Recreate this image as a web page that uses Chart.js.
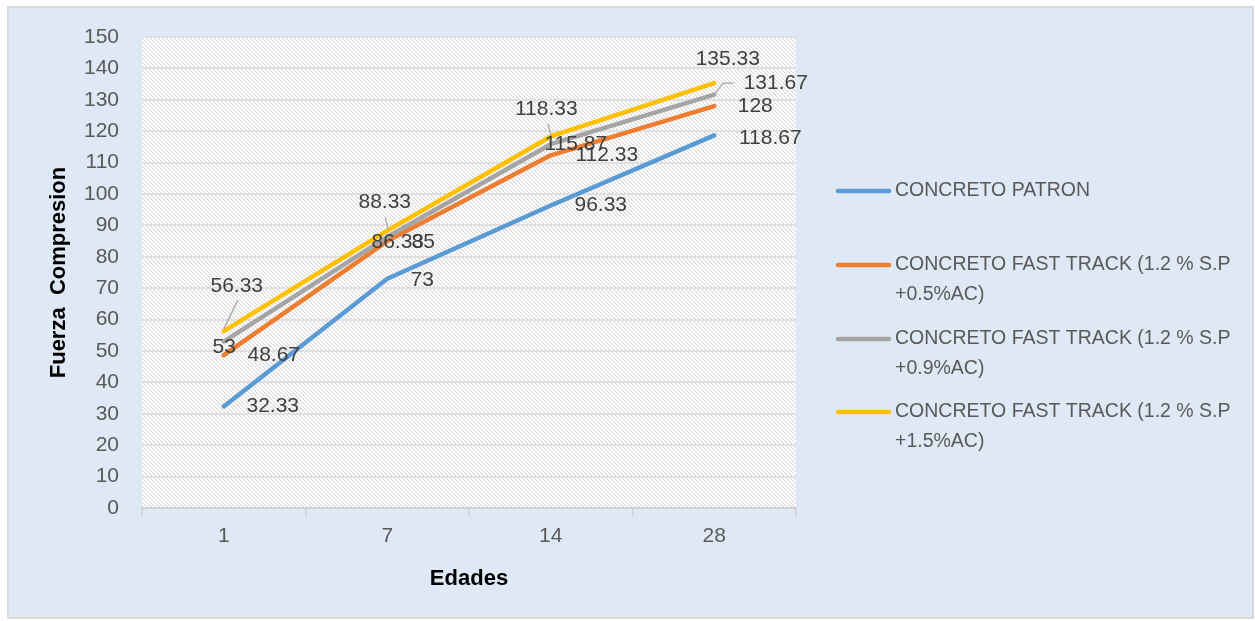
<!DOCTYPE html>
<html><head><meta charset="utf-8">
<script src="https://cdn.jsdelivr.net/npm/chart.js@4.4.0/dist/chart.umd.min.js"></script>
<style>html,body{margin:0;padding:0;background:#fff;}#wrap{width:1255px;height:621px;position:relative}</style>
</head><body><div id="wrap"><canvas id="c" width="1255" height="621"></canvas></div>
<script>
// ---- data ----
const categories = ['1', '7', '14', '28'];
const patron = [32.33, 73, 96.33, 118.67];
const fastTrack05 = [48.67, 85, 112.33, 128];
const fastTrack09 = [53, 86.33, 115.87, 131.67];
const fastTrack15 = [56.33, 88.33, 118.33, 135.33];
const seriesNames = [
  ['CONCRETO PATRON'],
  ['CONCRETO FAST TRACK (1.2 % S.P', '+0.5%AC)'],
  ['CONCRETO FAST TRACK (1.2 % S.P', '+0.9%AC)'],
  ['CONCRETO FAST TRACK (1.2 % S.P', '+1.5%AC)']
];
const yMin = 0, yMax = 150, yStep = 10;
const xTitle = 'Edades';
const yTitle = 'Fuerza  Compresion';

// ---- styling ----
const colors = ['#5b9bd5', '#ed7d31', '#a5a5a5', '#ffc000'];
const FONT = "'Liberation Sans', Arial, sans-serif";
// label offsets relative to each point (px), and optional leader lines
const labelOffsets = [
  [[49, 0], [35, 1], [50, 0], [56, 3]],
  [[50, 0], [36, 1.5], [56, 0], [41, 0]],
  [[0.5, 6], [10.5, 5.5], [25, 0], [61.5, -11]],
  [[13, -44.5], [-2.5, -28], [-4.5, -27], [13.5, -23.5]]
];
const leaders = [
  [null, null, null, null],
  [null, null, null, null],
  [null, null, null, [[19, -11.5], [9, -11.5], [1, -1.5]]],
  [[[14, -31], [0, -2]], [[-2, -13], [1, -1]], [[-3, -13], [1, 1]], null]
];

function makeHatch(ctx) {
  const c = document.createElement('canvas'); c.width = 4; c.height = 4;
  const g = c.getContext('2d');
  g.fillStyle = '#ffffff'; g.fillRect(0, 0, 4, 4);
  for (let i = 0; i < 4; i++) {
    g.fillStyle = '#d8d8d8'; g.fillRect(i, i, 1, 1);
    g.fillStyle = '#f1f1f1'; g.fillRect((i + 1) % 4, i, 1, 1);
  }
  return ctx.createPattern(c, 'repeat');
}

const bgPlugin = {
  id: 'bg',
  beforeDraw(chart) {
    const ctx = chart.ctx, a = chart.chartArea;
    ctx.save();
    ctx.fillStyle = '#ffffff'; ctx.fillRect(0, 0, chart.width, chart.height);
    ctx.fillStyle = '#dfe9f5'; ctx.fillRect(8, 7, 1245, 611);
    ctx.strokeStyle = '#d9d9d9'; ctx.lineWidth = 2; ctx.strokeRect(8, 7, 1245, 611);
    ctx.fillStyle = makeHatch(ctx);
    ctx.fillRect(a.left, a.top, a.right - a.left, a.bottom - a.top);
    ctx.restore();
  }
};

const labelPlugin = {
  id: 'dlabels',
  afterDatasetsDraw(chart) {
    const ctx = chart.ctx;
    ctx.save();
    ctx.font = '21px ' + FONT;
    ctx.textAlign = 'center'; ctx.textBaseline = 'middle';
    chart.data.datasets.forEach((ds, i) => {
      const meta = chart.getDatasetMeta(i);
      meta.data.forEach((pt, j) => {
        const L = leaders[i][j];
        if (L) {
          ctx.strokeStyle = '#a6a6a6'; ctx.lineWidth = 1.2;
          ctx.beginPath();
          L.forEach((p, k) => { const fx = pt.x + p[0], fy = pt.y + p[1]; k ? ctx.lineTo(fx, fy) : ctx.moveTo(fx, fy); });
          ctx.stroke();
        }
      });
    });
    chart.data.datasets.forEach((ds, i) => {
      const meta = chart.getDatasetMeta(i);
      meta.data.forEach((pt, j) => {
        const o = labelOffsets[i][j];
        ctx.fillStyle = '#404040';
        ctx.fillText(String(ds.data[j]), pt.x + o[0], pt.y + o[1]);
      });
    });
    ctx.restore();
  }
};

const legendPlugin = {
  id: 'customLegend',
  afterDraw(chart) {
    const ctx = chart.ctx;
    ctx.save();
    ctx.font = '19.5px ' + FONT;
    ctx.textAlign = 'left'; ctx.textBaseline = 'middle';
    const rowY = [191, 265, 339, 412];
    chart.data.datasets.forEach((ds, i) => {
      const y = rowY[i];
      ctx.strokeStyle = ds.borderColor; ctx.lineWidth = 4.5; ctx.lineCap = 'round';
      ctx.beginPath(); ctx.moveTo(838, y); ctx.lineTo(889, y); ctx.stroke();
      ctx.fillStyle = '#595959';
      seriesNames[i].forEach((t, k) => ctx.fillText(t, 895, y + k * 30));
    });
    ctx.restore();
  }
};

const seriesData = [patron, fastTrack05, fastTrack09, fastTrack15];
new Chart(document.getElementById('c'), {
  type: 'line',
  data: {
    labels: categories,
    datasets: seriesData.map((d, i) => ({
      label: seriesNames[i].join(' '),
      data: d,
      borderColor: colors[i],
      backgroundColor: colors[i],
      borderWidth: 4.5,
      borderCapStyle: 'round',
      borderJoinStyle: 'round',
      pointRadius: 0,
      tension: 0,
      fill: false,
      order: 3 - i
    }))
  },
  options: {
    responsive: false,
    animation: false,
    devicePixelRatio: 1,
    layout: { padding: { left: 0, top: 37, right: 459, bottom: 0 } },
    plugins: { legend: { display: false }, tooltip: { enabled: false } },
    scales: {
      x: {
        type: 'category',
        offset: true,
        grid: { display: true, drawOnChartArea: false, drawTicks: true, tickLength: 8, color: '#d0d0d0', lineWidth: 1.5, offset: true },
        border: { display: true, color: '#d0d0d0', width: 2 },
        ticks: { color: '#595959', font: { family: FONT, size: 21 }, padding: 8, maxRotation: 0 },
        title: { display: true, text: xTitle, color: '#000', font: { family: FONT, size: 22, weight: 'bold' }, padding: { top: 0, bottom: 29 } },
        afterFit(s) { s.height = 113; }
      },
      y: {
        min: yMin, max: yMax,
        grid: { color: '#e0e0e0', lineWidth: 2, drawTicks: false },
        border: { display: false },
        ticks: { stepSize: yStep, color: '#595959', font: { family: FONT, size: 21 }, padding: 23 },
        title: { display: true, text: yTitle, color: '#000', font: { family: FONT, size: 22, weight: 'bold' }, padding: { top: 46, bottom: 0 } },
        afterFit(s) { s.width = 142; }
      }
    }
  },
  plugins: [bgPlugin, labelPlugin, legendPlugin]
});
</script></body></html>
